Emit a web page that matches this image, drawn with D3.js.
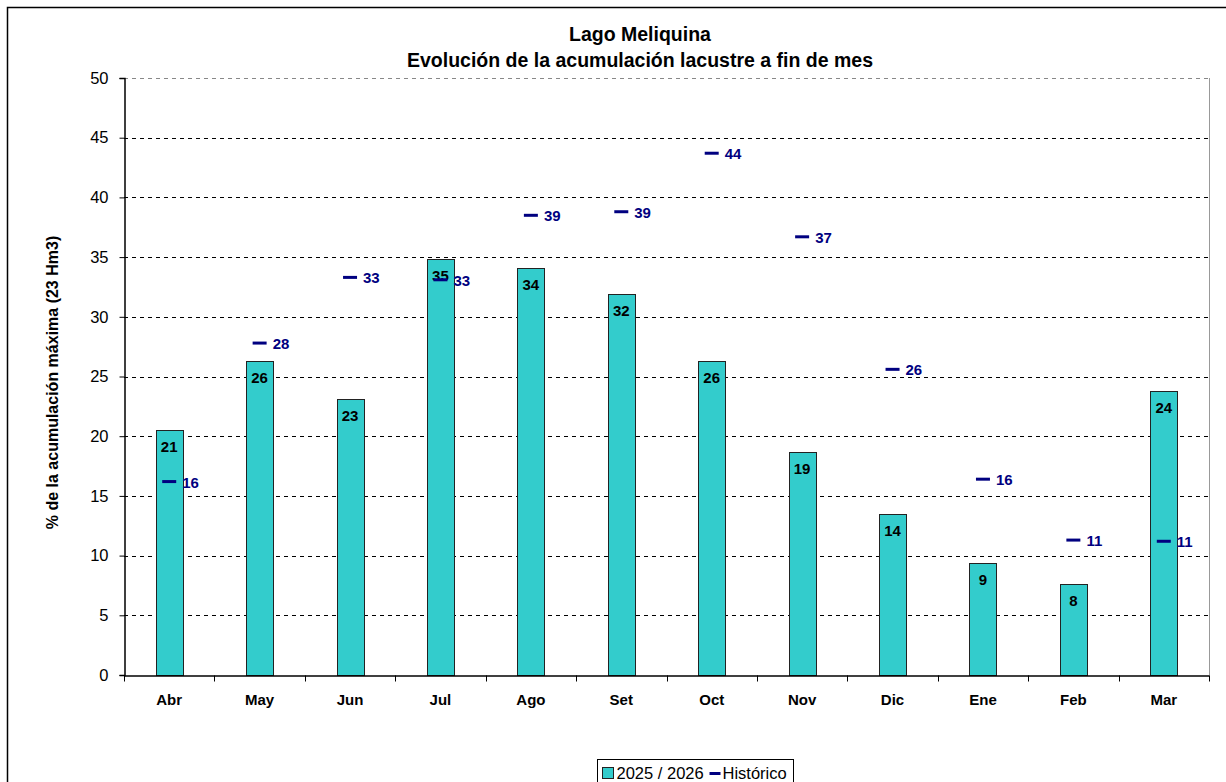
<!DOCTYPE html>
<html>
<head>
<meta charset="utf-8">
<script src="https://d3js.org/d3.v7.min.js"></script>
<style>
  body { margin: 0; background: #fff; }
  svg { font-family: "Liberation Sans", Arial, sans-serif; }
</style>
</head>
<body>
<svg width="1226" height="782"></svg>
<script>
// monthly values, % of max storage
var months = ["Abr", "May", "Jun", "Jul", "Ago", "Set", "Oct", "Nov", "Dic", "Ene", "Feb", "Mar"];
var actual = [20.5, 26.3, 23.1, 34.8, 34.1, 31.9, 26.3, 18.7, 13.5, 9.4, 7.6, 23.8];
var historico = [16.2, 27.8, 33.3, 33.1, 38.5, 38.8, 43.7, 36.7, 25.6, 16.4, 11.3, 11.2];
var yTicks = [0, 5, 10, 15, 20, 25, 30, 35, 40, 45, 50];

var svg = d3.select("svg"),
    margin = {left: 124, right: 1209, top: 78, bottom: 675};

// outer frame
svg.append("rect")
    .attr("x", 7.5).attr("y", 7.5)
    .attr("width", 1240).attr("height", 800)
    .attr("fill", "none").attr("stroke", "#000").attr("stroke-width", 1.5);

var x = d3.scaleBand()
    .domain(months)
    .range([margin.left, margin.right]);

var y = d3.scaleLinear()
    .domain([0, 50])
    .range([margin.bottom, margin.top]);

// gridlines
svg.append("g").selectAll("line")
    .data(yTicks.filter(function(d) { return d > 0; }))
  .enter().append("line")
    .attr("x1", margin.left).attr("x2", margin.right)
    .attr("y1", function(d) { return Math.round(y(d)) + 0.5; })
    .attr("y2", function(d) { return Math.round(y(d)) + 0.5; })
    .attr("stroke", function(d) { return d === 50 ? "#888" : "#000"; })
    .attr("stroke-dasharray", "4,4");

// right border of plot
svg.append("line")
    .attr("x1", margin.right + 0.5).attr("x2", margin.right + 0.5)
    .attr("y1", margin.top).attr("y2", margin.bottom)
    .attr("stroke", "#999");

// bars
var barW = 27;
svg.append("g").selectAll("rect")
    .data(actual)
  .enter().append("rect")
    .attr("x", function(d, i) { return Math.round(x(months[i]) + x.bandwidth() / 2 - barW / 2) + 0.5; })
    .attr("y", function(d) { return Math.round(y(d)) + 0.5; })
    .attr("width", barW)
    .attr("height", function(d) { return y(0) - Math.round(y(d)); })
    .attr("fill", "#33cccc")
    .attr("stroke", "#222")
    .attr("stroke-width", 1);

// y axis
var yAxis = svg.append("g")
    .attr("transform", "translate(" + (margin.left + 0.5) + ",0)")
    .call(d3.axisLeft(y).tickValues(yTicks).tickSize(5).tickPadding(11));
yAxis.select(".domain").attr("stroke", "#000").attr("stroke-width", 1.5);
yAxis.selectAll("text").attr("font-size", 16.5).attr("fill", "#000")
    .attr("font-family", "Liberation Sans, Arial, sans-serif");

// x axis
var xAxis = svg.append("g")
    .attr("transform", "translate(0," + (margin.bottom + 0.5) + ")")
    .call(d3.axisBottom(x).tickSize(0).tickPadding(19));
xAxis.select(".domain").attr("stroke", "#000").attr("stroke-width", 1.5);
xAxis.selectAll("text").attr("font-size", 15).attr("font-weight", "bold").attr("fill", "#000")
    .attr("font-family", "Liberation Sans, Arial, sans-serif");
xAxis.selectAll(".sep")
    .data(months.slice(1).concat(["end"]))
  .enter().append("line")
    .attr("x1", function(d, i) { return Math.round(margin.left + (i + 1) * x.step()) + 0.5; })
    .attr("x2", function(d, i) { return Math.round(margin.left + (i + 1) * x.step()) + 0.5; })
    .attr("y1", 0).attr("y2", 6)
    .attr("stroke", "#000");
xAxis.append("line")
    .attr("x1", margin.left + 0.5).attr("x2", margin.left + 0.5)
    .attr("y1", 0).attr("y2", 6).attr("stroke", "#000");

// bar labels
svg.append("g").selectAll("text")
    .data(actual)
  .enter().append("text")
    .attr("x", function(d, i) { return x(months[i]) + x.bandwidth() / 2; })
    .attr("y", function(d) { return y(d) + 22; })
    .attr("text-anchor", "middle")
    .attr("font-size", 15).attr("font-weight", "bold").attr("fill", "#000")
    .text(function(d) { return Math.round(d); });

// historic markers
var hist = svg.append("g");
hist.selectAll("line")
    .data(historico)
  .enter().append("line")
    .attr("x1", function(d, i) { return x(months[i]) + x.bandwidth() / 2 - 7; })
    .attr("x2", function(d, i) { return x(months[i]) + x.bandwidth() / 2 + 7; })
    .attr("y1", function(d) { return y(d); })
    .attr("y2", function(d) { return y(d); })
    .attr("stroke", "#000080").attr("stroke-width", 3);
hist.selectAll("text")
    .data(historico)
  .enter().append("text")
    .attr("x", function(d, i) { return x(months[i]) + x.bandwidth() / 2 + 13; })
    .attr("y", function(d) { return y(d) + 6; })
    .attr("font-size", 15).attr("font-weight", "bold").attr("fill", "#000080")
    .text(function(d) { return Math.round(d); });

// titles
svg.append("text")
    .attr("x", 640).attr("y", 41)
    .attr("text-anchor", "middle")
    .attr("font-size", 19.5).attr("font-weight", "bold")
    .text("Lago Meliquina");
svg.append("text")
    .attr("x", 640).attr("y", 67)
    .attr("text-anchor", "middle")
    .attr("font-size", 19.5).attr("font-weight", "bold")
    .text("Evolución de la acumulación lacustre a fin de mes");

svg.append("text")
    .attr("transform", "translate(58," + ((margin.top + margin.bottom) / 2 + 6) + ") rotate(-90)")
    .attr("text-anchor", "middle")
    .attr("font-size", 16).attr("font-weight", "bold")
    .text("% de la acumulación máxima (23 Hm3)");

// legend
var lg = svg.append("g").attr("transform", "translate(597.5,759.5)");
lg.append("rect")
    .attr("width", 196).attr("height", 30)
    .attr("fill", "#fff").attr("stroke", "#000");
lg.append("rect")
    .attr("x", 5).attr("y", 8).attr("width", 11).attr("height", 11)
    .attr("fill", "#33cccc").attr("stroke", "#222");
lg.append("text")
    .attr("x", 19).attr("y", 19)
    .attr("font-size", 16.5)
    .text("2025 / 2026");
lg.append("line")
    .attr("x1", 112).attr("x2", 123).attr("y1", 14).attr("y2", 14)
    .attr("stroke", "#000080").attr("stroke-width", 3);
lg.append("text")
    .attr("x", 125).attr("y", 19)
    .attr("font-size", 16.5)
    .text("Histórico");
</script>
</body>
</html>
